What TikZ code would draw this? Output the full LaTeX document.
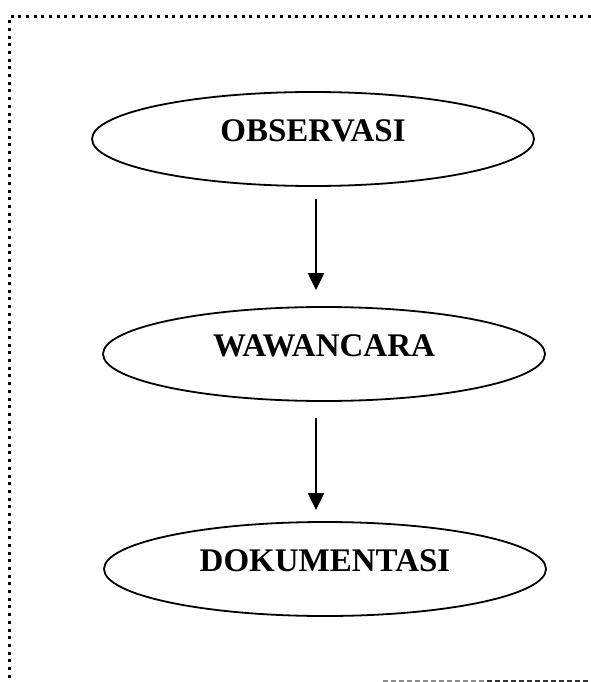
\documentclass[tikz,border=0pt]{standalone}
\usepackage{fontspec}
\setmainfont{Liberation Serif}
\usepackage{tikz}
\usetikzlibrary{positioning,arrows.meta,shapes.geometric,calc}
\tikzset{
  stage/.style  = {ellipse, draw=black, line width=1.8pt, minimum width=442pt,
                   minimum height=94pt, text depth=16pt, inner sep=0pt,
                   font=\fontsize{33}{39}\selectfont\bfseries},
  arr/.style    = {-{Triangle[length=17pt,width=16pt]}, line width=2.2pt},
  frame/.style  = {line width=3pt, dash pattern=on 3pt off 4.7pt},
  tail/.style   = {line width=1.5pt, dash pattern=on 5pt off 3pt},
}

\begin{document}
\begin{tikzpicture}[x=1pt,y=1pt]
  \useasboundingbox (0,0) rectangle (591,-682);
  % dotted frame
  \draw[frame] (591,-17) -- (9,-17) -- (9,-682);
  \draw[tail,black!45] (383,-681) -- (487,-681);
  \draw[tail,black!80] (487,-681) -- (591,-681);

  \node[stage] (obs) at (313,-139) {OBSERVASI};
  \node[stage] (waw) at (324,-354) {WAWANCARA};
  \node[stage] (dok) at (325,-569) {DOKUMENTASI};

  \draw[arr,shorten <=12pt,shorten >=16pt] ([xshift=3pt]obs.south) -- ([xshift=-8pt]waw.north);
  \draw[arr,shorten <=16pt,shorten >=11pt] ([xshift=-8pt]waw.south) -- ([xshift=-9pt]dok.north);
\end{tikzpicture}
\end{document}
